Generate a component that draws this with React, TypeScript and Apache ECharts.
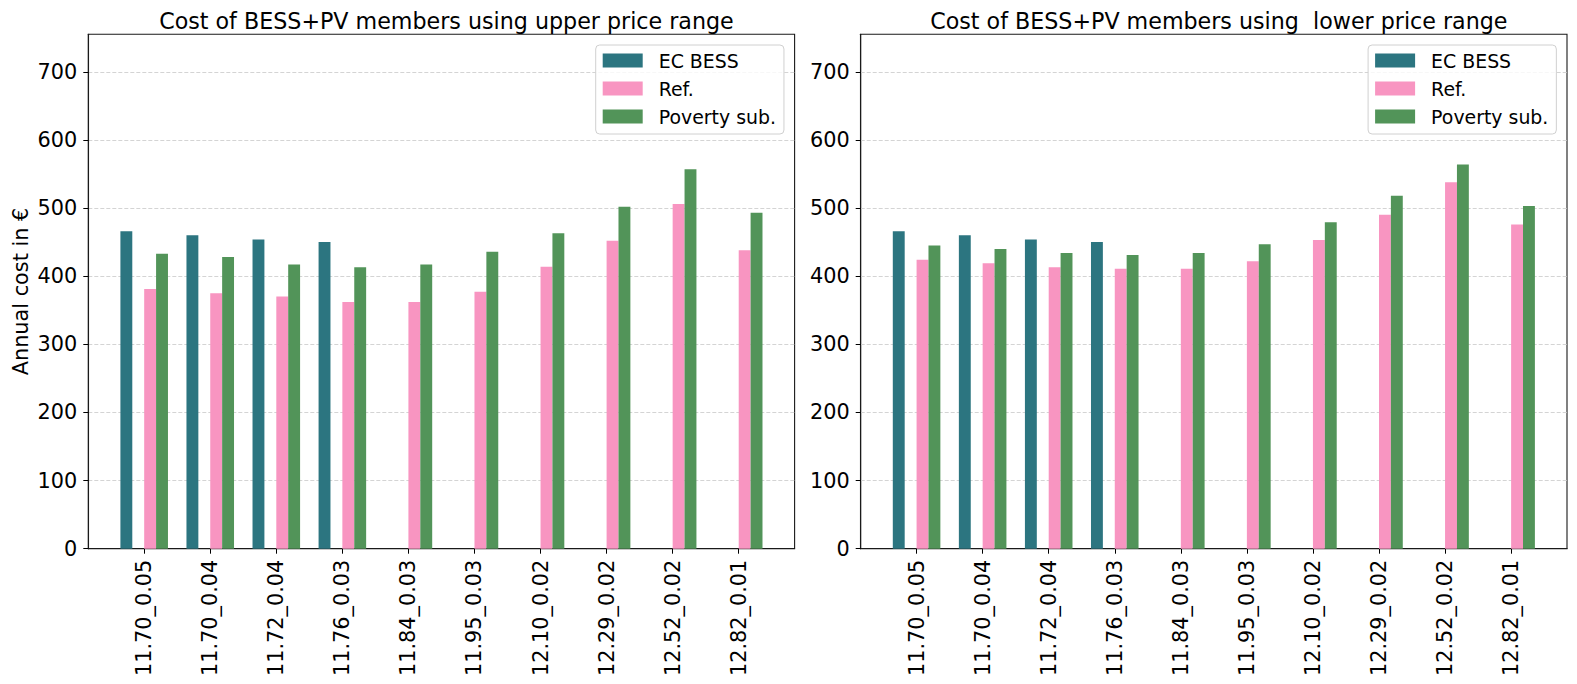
import { useEffect, useRef } from 'react'
import * as echarts from 'echarts'

// configurations (x axis)
const categories = [
  '11.70_0.05', '11.70_0.04', '11.72_0.04', '11.76_0.03', '11.84_0.03',
  '11.95_0.03', '12.10_0.02', '12.29_0.02', '12.52_0.02', '12.82_0.01'
]

// annual cost in €, upper price range
const upperEcBess = [466, 460, 454, 450, null, null, null, null, null, null]
const upperRef = [381, 375, 370, 362, 362, 377, 414, 452, 506, 438]
const upperPoverty = [433, 428, 417, 413, 417, 436, 463, 502, 557, 493]

// annual cost in €, lower price range
const lowerEcBess = [466, 460, 454, 450, null, null, null, null, null, null]
const lowerRef = [424, 419, 413, 411, 411, 422, 453, 490, 538, 476]
const lowerPoverty = [445, 440, 434, 431, 434, 447, 479, 518, 564, 503]

const yTicks = [0, 100, 200, 300, 400, 500, 600, 700]
const seriesNames = ['EC BESS', 'Ref.', 'Poverty sub.']
const titles = [
  'Cost of BESS+PV members using upper price range',
  'Cost of BESS+PV members using  lower price range'
]

const FONT = 'DejaVu Sans'
const colors = {
  ecBess: '#2c7580',
  ref: '#f895c1',
  poverty: '#529459'
}

const GRID_TOP = 34.3
const GRID_HEIGHT = 514.4
const GRID_WIDTH = 706.3
const gridLefts = [88.3, 860.7]

export default function App() {
  const chartRef = useRef<HTMLDivElement>(null)

  useEffect(() => {
    if (!chartRef.current) return

    const chart = echarts.init(chartRef.current, null, { renderer: 'svg' })

    const toPairs = (arr: (number | null)[]) => arr.map((v, i) => [i, v])

    const panels = [
      { ec: upperEcBess, ref: upperRef, pov: upperPoverty },
      { ec: lowerEcBess, ref: lowerRef, pov: lowerPoverty }
    ]

    const series: any[] = []
    panels.forEach((p, idx) => {
      const common = {
        type: 'bar',
        xAxisIndex: idx,
        yAxisIndex: idx,
        barWidth: '18%',
        barGap: '0%'
      }
      series.push({ ...common, name: 'EC BESS', data: toPairs(p.ec), itemStyle: { color: colors.ecBess } })
      // empty slot so that Ref. and Poverty sub. sit right of the tick
      series.push({ ...common, name: 'spacer' + idx, data: [], itemStyle: { color: 'transparent' } })
      series.push({ ...common, name: 'Ref.', data: toPairs(p.ref), itemStyle: { color: colors.ref } })
      series.push({ ...common, name: 'Poverty sub.', data: toPairs(p.pov), itemStyle: { color: colors.poverty } })
    })

    const xAxes = gridLefts.map((_, idx) => ({
      type: 'value',
      gridIndex: idx,
      min: -0.846,
      max: 9.846,
      axisLine: { show: true, onZero: false, lineStyle: { color: '#1a1a1a', width: 1.1 } },
      axisTick: {
        show: true,
        inside: false,
        length: 5,
        customValues: categories.map((_, i) => i),
        lineStyle: { color: '#000', width: 1 }
      },
      axisLabel: {
        customValues: categories.map((_, i) => i),
        formatter: (v: number) => categories[Math.round(v)],
        rotate: 90,
        margin: 11,
        color: '#000',
        fontSize: 20.8,
        fontFamily: FONT
      },
      splitLine: { show: false }
    }))

    const yAxes = gridLefts.map((_, idx) => ({
      type: 'value',
      gridIndex: idx,
      min: 0,
      max: 755,
      interval: 100,
      name: idx === 0 ? 'Annual cost in €' : '',
      nameLocation: 'middle',
      nameGap: 57,
      nameTextStyle: { color: '#000', fontSize: 20.8, fontFamily: FONT },
      axisLine: { show: true, onZero: false, lineStyle: { color: '#1a1a1a', width: 1.1 } },
      axisTick: {
        show: true,
        inside: false,
        length: 5,
        customValues: yTicks,
        lineStyle: { color: '#000', width: 1 }
      },
      axisLabel: {
        customValues: yTicks,
        margin: 11,
        color: '#000',
        fontSize: 20.8,
        fontFamily: FONT
      },
      splitLine: {
        show: true,
        lineStyle: { color: '#d4d4d4', type: [4, 2], width: 1 }
      }
    }))

    const legends = gridLefts.map((left) => ({
      data: seriesNames,
      orient: 'vertical',
      left: left + 507.4,
      top: 45,
      icon: 'rect',
      itemWidth: 40,
      itemHeight: 14,
      itemGap: 9,
      padding: [6, 8, 8, 7],
      backgroundColor: 'rgba(255,255,255,0.8)',
      borderColor: '#d0d0d0',
      borderWidth: 1,
      borderRadius: 4,
      selectedMode: false,
      textStyle: {
        color: '#000',
        fontSize: 18.9,
        fontFamily: FONT,
        padding: [0, 0, 0, 11]
      }
    }))

    const option = {
      animation: false,
      backgroundColor: '#fff',
      title: gridLefts.map((left, idx) => ({
        text: titles[idx],
        left: left + GRID_WIDTH / 2,
        top: 5,
        textAlign: 'center',
        textStyle: { color: '#000', fontSize: 22.2, fontWeight: 'normal', fontFamily: FONT }
      })),
      legend: legends,
      grid: gridLefts.map((left) => ({
        left,
        top: GRID_TOP,
        width: GRID_WIDTH,
        height: GRID_HEIGHT,
        show: true,
        borderColor: '#1a1a1a',
        borderWidth: 1.1,
        backgroundColor: 'transparent'
      })),
      xAxis: xAxes,
      yAxis: yAxes,
      series
    }

    chart.setOption(option)

    return () => {
      chart.dispose()
    }
  }, [])

  return (
    <div
      ref={chartRef}
      style={{ position: 'absolute', left: 0, top: 0, width: 1577, height: 684 }}
    />
  )
}
